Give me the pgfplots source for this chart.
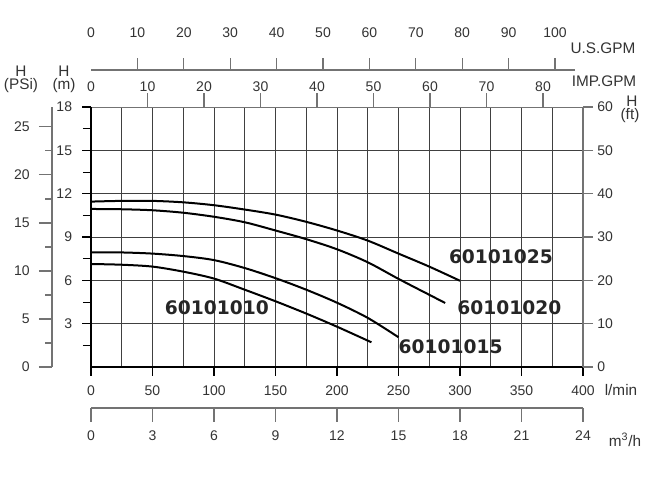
\documentclass[border=0pt]{standalone}
\usepackage{pgfplots}
\pgfplotsset{compat=1.18}
\usepackage{fontspec}
\setmainfont{Liberation Sans}
\newfontfamily\dv{DejaVu Sans}
\definecolor{tx}{gray}{0.2}
\definecolor{ax}{gray}{0.45}
\definecolor{gr}{gray}{0.25}
\begin{document}
\begin{tikzpicture}
\path[use as bounding box] (0,0) rectangle (487.5pt,366pt);
\pgfplotsset{every axis/.append style={scale only axis,
  font=\fontsize{10.5}{12}\selectfont,
  /pgf/number format/assume math mode=true,
  tick label style={text=tx, inner sep=0pt}}}
% grid
\begin{axis}[at={(68.25pt,90.75pt)},anchor=south west,width=369pt,height=195pt,
  xmin=0,xmax=400,ymin=0,ymax=18,
  xtick={0,25,...,400}, ytick={0,3,...,18},
  grid=major, major grid style={gr, line width=0.7pt},
  major tick length=0pt, xticklabels={}, yticklabels={},
  tick label style={opacity=0},
  axis line style={draw=none}]
\end{axis}
% main
\begin{axis}[at={(68.25pt,90.75pt)},anchor=south west,width=369pt,height=195pt,
  xmin=0,xmax=400,ymin=0,ymax=18, clip=false,
  axis line style={ax, line width=0.6pt},
  xtick={0,50,...,400}, ytick={3,6,...,18}, minor ytick={1.5,4.5,...,16.5},
  xtick pos=left, ytick pos=left, tick align=outside,
  major tick length=6.5pt, minor tick length=6pt,
  major tick style={black, line width=1.1pt}, minor tick style={black, line width=0.6pt},
  xticklabel style={anchor=base, yshift=-15pt},
  yticklabel style={anchor=east, xshift=-7.5pt}]
\addplot[black, line width=1.5pt, smooth] coordinates {(0,11.45)(25,11.5)(50,11.5)(75,11.4)(100,11.2)(125,10.9)(150,10.55)(175,10.05)(200,9.45)(225,8.75)(250,7.85)(275,6.95)(300,5.97)};
\addplot[black, line width=1.5pt, smooth] coordinates {(0,10.94)(25,10.92)(50,10.85)(75,10.68)(100,10.4)(125,10.02)(150,9.45)(175,8.85)(200,8.15)(225,7.25)(250,6.1)(275,5.0)(288,4.43)};
\addplot[black, line width=1.5pt, smooth] coordinates {(0,7.94)(25,7.93)(50,7.85)(75,7.68)(100,7.4)(125,6.85)(150,6.15)(175,5.35)(200,4.45)(225,3.4)(250,2.06)};
\addplot[black, line width=1.5pt, smooth] coordinates {(0,7.13)(25,7.08)(50,6.95)(75,6.6)(100,6.12)(125,5.35)(150,4.55)(175,3.7)(200,2.79)(228,1.71)};
\draw[black, line width=1.8pt] (axis cs:0,18) -- (axis cs:0,0) -- (axis cs:400,0);
\node[font=\dv\bfseries\fontsize{14}{16}\selectfont, text=black!85] at (axis cs:333.3,7.62) {60101025};
\node[font=\dv\bfseries\fontsize{14}{16}\selectfont, text=black!85] at (axis cs:340.2,4.09) {60101020};
\node[font=\dv\bfseries\fontsize{14}{16}\selectfont, text=black!85] at (axis cs:292.3,1.39) {60101015};
\node[font=\dv\bfseries\fontsize{14}{16}\selectfont, text=black!85] at (axis cs:102.4,4.09) {60101010};
\end{axis}
% right ft axis
\begin{axis}[at={(68.25pt,90.75pt)},anchor=south west,width=369pt,height=195pt,
  xmin=0,xmax=400,ymin=0,ymax=60, axis x line=none, axis y line*=right,
  axis line style={ax, line width=0.8pt},
  ytick={0,10,...,60}, tick align=outside, major tick length=7.5pt,
  major tick style={ax, line width=0.8pt},
  yticklabel style={anchor=west, xshift=3pt}]
\end{axis}
% psi axis
\begin{axis}[at={(39pt,90.75pt)},anchor=south west,width=10pt,height=195pt,
  xmin=0,xmax=1,ymin=0,ymax=27.08, axis x line=none, axis y line*=left,
  axis line style={ax, line width=0.8pt},
  ytick={0,5,...,25}, minor ytick={2.5,7.5,...,22.5},
  tick align=outside, major tick length=9.75pt, minor tick length=5.25pt,
  major tick style={ax, line width=0.8pt}, minor tick style={ax, line width=0.8pt},
  yticklabel style={anchor=east, xshift=-6.75pt}]
\end{axis}
% US GPM axis
\begin{axis}[at={(68.25pt,313.5pt)},anchor=south west,width=363pt,height=9pt,
  xmin=0,xmax=104.31,ymin=0,ymax=1, axis y line=none, axis x line*=bottom,
  axis line style={ax, line width=0.8pt},
  xtick={10,20,...,100}, tick align=inside, major tick length=9pt,
  major tick style={ax, line width=0.8pt},
  extra x ticks={0}, extra x tick style={major tick length=0pt},
  xticklabel style={anchor=base, yshift=24pt}]
\end{axis}
% IMP GPM axis
\begin{axis}[at={(68.25pt,285.75pt)},anchor=south west,width=369pt,height=10.5pt,
  xmin=0,xmax=87.08,ymin=0,ymax=1, axis y line=none, axis x line*=bottom,
  axis line style={draw=none},
  xtick={10,20,...,80}, tick align=inside, major tick length=10.5pt,
  major tick style={ax, line width=0.8pt},
  extra x ticks={0}, extra x tick style={major tick length=0pt},
  xticklabel style={anchor=base, yshift=11.25pt}]
\end{axis}
% m3/h axis
\begin{axis}[at={(68.25pt,60pt)},anchor=north west,width=369pt,height=10.5pt,
  xmin=0,xmax=24,ymin=0,ymax=1, axis y line=none, axis x line*=top,
  axis line style={ax, line width=0.8pt},
  xtick={0,3,...,24}, tick align=inside, major tick length=10.5pt,
  major tick style={ax, line width=0.8pt},
  xticklabel style={anchor=base, yshift=-24.75pt}]
\end{axis}
% unit labels
\begin{scope}[x=0.75pt,y=-0.75pt,yshift=366pt, every node/.style={text=tx, font=\fontsize{11.5}{13}\selectfont, inner sep=0pt}]
\node at (603,48) {U.S.GPM};
\node at (604,81) {IMP.GPM};
\node at (21,71) {H};
\node at (21,86) {(PSi)};
\node at (64,71) {H};
\node at (64,86) {(m)};
\node at (632,101) {H};
\node at (630,116) {(ft)};
\node at (621,390) {l/min};
\node at (625,440) {m\textsuperscript{3}/h};
\end{scope}
\end{tikzpicture}
\end{document}
